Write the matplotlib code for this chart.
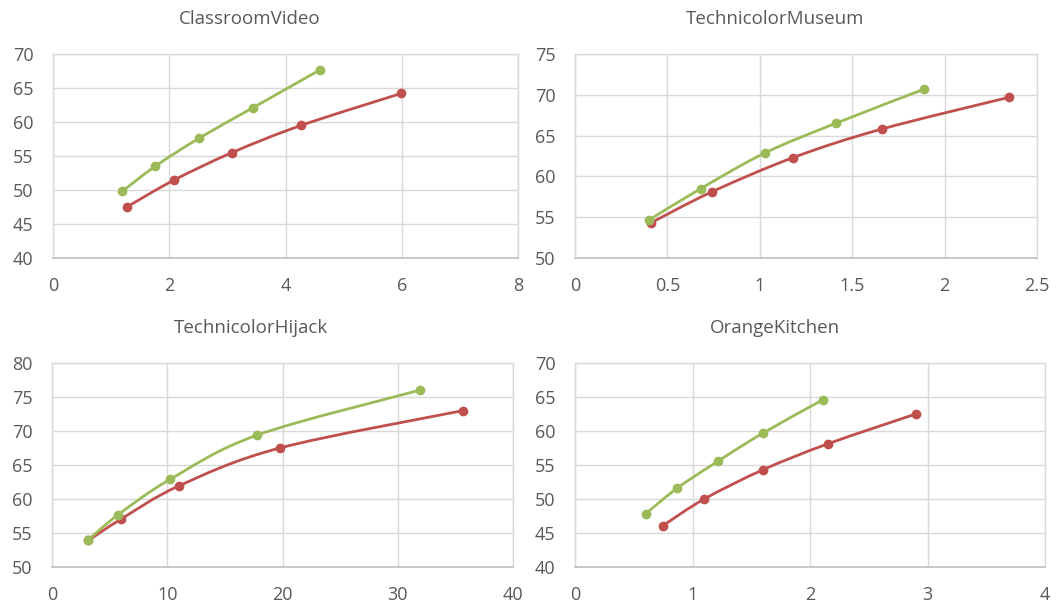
import matplotlib
matplotlib.use('Agg')
import matplotlib.pyplot as plt
from matplotlib.path import Path
from matplotlib.patches import PathPatch

plt.rcParams['font.family'] = ['Open Sans', 'DejaVu Sans']

titles = ['ClassroomVideo', 'TechnicolorMuseum', 'TechnicolorHijack', 'OrangeKitchen']

# green series
green_x = [
    [1.19, 1.76, 2.51, 3.44, 4.60],
    [0.40, 0.68, 1.03, 1.41, 1.89],
    [3.15, 5.75, 10.26, 17.8, 31.9],
    [0.60, 0.87, 1.22, 1.60, 2.11],
]
green_y = [
    [49.8, 53.5, 57.6, 62.1, 67.7],
    [54.65, 58.5, 62.9, 66.5, 70.7],
    [54.0, 57.7, 62.9, 69.4, 76.0],
    [47.8, 51.6, 55.6, 59.7, 64.6],
]
# red series
red_x = [
    [1.27, 2.08, 3.08, 4.27, 5.99],
    [0.41, 0.74, 1.18, 1.66, 2.35],
    [3.15, 5.95, 11.04, 19.77, 35.66],
    [0.75, 1.10, 1.60, 2.15, 2.90],
]
red_y = [
    [47.5, 51.45, 55.5, 59.5, 64.2],
    [54.3, 58.1, 62.3, 65.8, 69.7],
    [53.9, 57.0, 61.95, 67.5, 73.0],
    [46.1, 50.0, 54.3, 58.1, 62.5],
]

x_ranges = [(0, 8, 2), (0, 2.5, 0.5), (0, 40, 10), (0, 4, 1)]
y_ranges = [(40, 70, 5), (50, 75, 5), (50, 80, 5), (40, 70, 5)]

# axes boxes in pixels: left, right, top, bottom
boxes = [(53, 518, 54, 258), (575, 1037, 54, 258),
         (52, 513, 363, 567), (575, 1045, 363, 567)]
title_pos = [(250, 19), (775, 19), (251, 328), (775, 328)]

W, H = 1056, 608
GREEN = '#9BBB59'
RED = '#C0504D'
TXT = '#595959'


def smooth_path(xs, ys):
    # Catmull-Rom style bezier like the excel smoothed line
    pts = list(zip(xs, ys))
    n = len(pts)
    verts = [pts[0]]
    codes = [Path.MOVETO]
    for i in range(n - 1):
        p0 = pts[i - 1] if i > 0 else pts[i]
        p1 = pts[i]
        p2 = pts[i + 1]
        p3 = pts[i + 2] if i + 2 < n else pts[i + 1]
        c1 = (p1[0] + (p2[0] - p0[0]) / 6, p1[1] + (p2[1] - p0[1]) / 6)
        c2 = (p2[0] - (p3[0] - p1[0]) / 6, p2[1] - (p3[1] - p1[1]) / 6)
        verts += [c1, c2, p2]
        codes += [Path.CURVE4] * 3
    return Path(verts, codes)


fig = plt.figure(figsize=(W / 100, H / 100), dpi=100)

for i in range(4):
    l, r, t, b = boxes[i]
    ax = fig.add_axes([l / W, 1 - b / H, (r - l) / W, (b - t) / H])
    x0, x1, xs = x_ranges[i]
    y0, y1, ys = y_ranges[i]
    ax.set_xlim(x0, x1)
    ax.set_ylim(y0, y1)
    xt = [x0 + k * xs for k in range(int(round((x1 - x0) / xs)) + 1)]
    yt = [y0 + k * ys for k in range(int(round((y1 - y0) / ys)) + 1)]
    ax.set_xticks(xt)
    ax.set_yticks(yt)
    ax.set_xticklabels(['%g' % v for v in xt])
    ax.set_yticklabels(['%g' % v for v in yt])
    ax.grid(True, color='#D9D9D9', linewidth=1)
    ax.set_axisbelow(True)
    for s in ['left', 'top', 'right']:
        ax.spines[s].set_color('#D9D9D9')
        ax.spines[s].set_linewidth(1)
    ax.spines['bottom'].set_color('#BFBFBF')
    ax.spines['bottom'].set_linewidth(1.2)
    ax.tick_params(length=0, labelsize=13, labelcolor=TXT, pad=14)
    tx, ty = title_pos[i]
    fig.text(tx / W, 1 - ty / H, titles[i], fontsize=13.5, color=TXT,
             ha='center', va='center')

    for xx, yy, c in [(red_x[i], red_y[i], RED), (green_x[i], green_y[i], GREEN)]:
        ax.add_patch(PathPatch(smooth_path(xx, yy), facecolor='none',
                               edgecolor=c, linewidth=2, zorder=3))
        ax.plot(xx, yy, 'o', color=c, markersize=6, zorder=4)

fig.savefig('out.png', dpi=100, facecolor='white')
